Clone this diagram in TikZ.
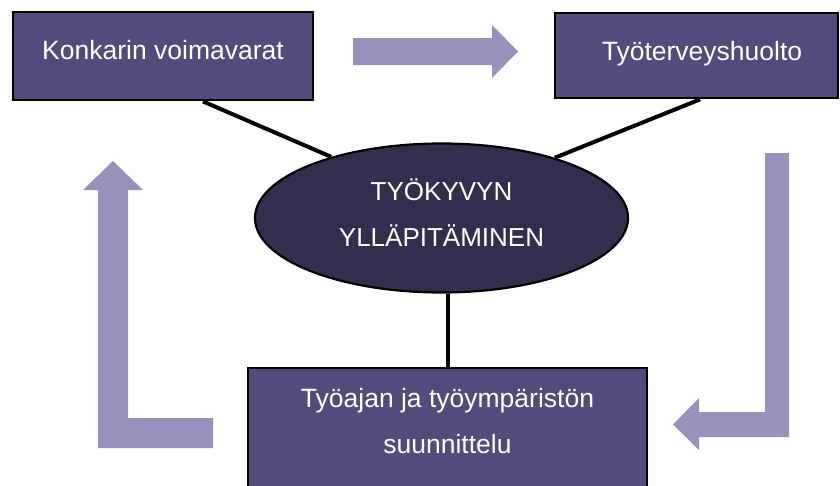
\documentclass[tikz,border=0pt]{standalone}
\usepackage{fontspec}
\setmainfont{Liberation Sans}
\usetikzlibrary{shapes.geometric,backgrounds}
\definecolor{boxfill}{HTML}{524B7B}
\definecolor{ellfill}{HTML}{332D4E}
\definecolor{arrowfill}{HTML}{9792BB}
\tikzset{
  box/.style={draw=black, line width=2.8pt, fill=boxfill, rectangle, inner sep=0pt},
  ell/.style={draw=black, line width=2.2pt, fill=ellfill, ellipse, inner sep=0pt, minimum width=373pt, minimum height=149pt},
  lbl/.style={text=white, align=center, anchor=base, inner sep=0pt, font=\fontsize{26.5}{46}\selectfont},
  link/.style={draw=black, line width=4pt},
  bigarrow/.style={fill=arrowfill, draw=none}
}
\begin{document}
\begin{tikzpicture}[x=1pt,y=-1pt]
\useasboundingbox (0,0) rectangle (840,485);
\clip (0,0) rectangle (840,485);
% shapes
\node[box, minimum width=300pt, minimum height=88pt] (k) at (163,56) {};
\node[box, minimum width=283pt, minimum height=85pt] (t) at (696.5,55.5) {};
\node[box, minimum width=399pt, minimum height=140pt] (s) at (447.5,438) {};
\node[ell] (e) at (441.5,218) {};
% connectors under the shapes
\begin{scope}[on background layer]
\draw[link] ([xshift=40pt]k.south) -- (e.151);
\draw[link] ([xshift=3.5pt]t.south) -- (e.28);
\draw[link] (s.north) -- (s.north |- e.south);
\end{scope}
% texts
\node[lbl] (kt) at (163,59) {Konkarin voimavarat};
\node[lbl] (tt) at (702,60) {Työterveyshuolto};
\node[lbl, font=\fontsize{26}{46}\selectfont] (et) at (441.5,246) {TYÖKYVYN\\YLLÄPITÄMINEN};
\node[lbl] (st) at (447.5,453) {Työajan ja työympäristön\\suunnittelu};
% block arrows
\fill[bigarrow] (353,38) -- (492,38) -- (492,25) -- (518,51.5) -- (492,78) -- (492,65) -- (353,65) -- cycle;
\fill[bigarrow] (213,448) -- (98,448) -- (98,190) -- (83,190) -- (113,161) -- (143,190) -- (128,190) -- (128,418) -- (213,418) -- cycle;
\fill[bigarrow] (765,153) -- (789,153) -- (789,437) -- (699,437) -- (699,450) -- (673,424.5) -- (699,398) -- (699,412) -- (765,412) -- cycle;
\end{tikzpicture}
\end{document}
